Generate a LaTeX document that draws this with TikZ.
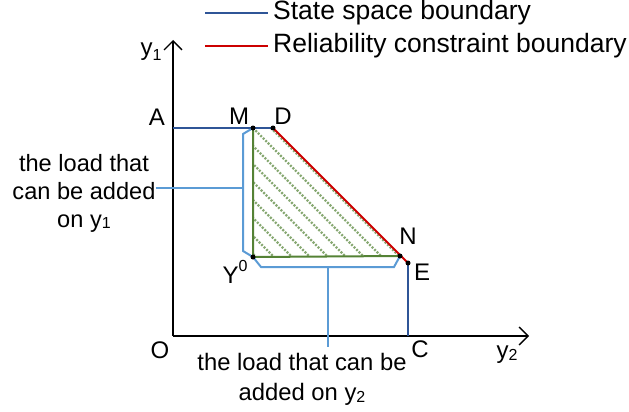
\documentclass[tikz,border=0pt]{standalone}
\usepackage{fontspec}
\setmainfont{Liberation Sans}
\usetikzlibrary{arrows.meta}
\definecolor{dblue}{RGB}{47,85,151}
\definecolor{lblue}{RGB}{91,155,213}
\definecolor{dred}{RGB}{204,0,0}
\definecolor{dgreen}{RGB}{84,130,53}
\tikzset{
  lbl/.style={inner sep=0pt, font=\fontsize{24}{28}\selectfont},
  txt/.style={inner sep=0pt, align=center, font=\fontsize{23.6}{28}\selectfont},
  txtb/.style={inner sep=0pt, align=center, font=\fontsize{23.8}{30}\selectfont},
  legtxt/.style={inner sep=0pt, anchor=west, font=\fontsize{26.5}{30}\selectfont},
  axis/.style={line width=1.6pt, -{Straight Barb[length=9pt,width=18pt,line width=1.4pt]}},
  sbound/.style={dblue, line width=2pt},
  rbound/.style={dred, line width=2pt},
  gline/.style={dgreen, line width=2pt},
  brk/.style={lblue, line width=2pt},
  hatch/.style={dgreen!70, line width=2.4pt, dash pattern=on 2pt off 1.5pt},
  pt/.style={circle, fill=black, inner sep=0pt, minimum size=5pt},
}
\newcommand{\smsub}[1]{\raisebox{-0.15ex}{\fontsize{16}{16}\selectfont #1}}
\begin{document}
\begin{tikzpicture}[x=1pt,y=-1pt]
\useasboundingbox (0,0) rectangle (629,412);
% key points
\coordinate (O) at (173,336);
\coordinate (A) at (173,128);
\coordinate (M) at (253,128);
\coordinate (D) at (273,128);
\coordinate (N) at (400,256);
\coordinate (E) at (408,263);
\coordinate (C) at (408,336);
\coordinate (Y0) at (253,257);
\coordinate (ytop) at (173,40);
\coordinate (xend) at (529,336);
% hatch
\begin{scope}
\clip (M) -- (D) -- (N) -- (Y0) -- cycle;
\foreach \i in {-144,-126,...,160}
  \draw[hatch] (253+\i,128) -- ++(200,200);
\end{scope}
% axes
\draw[axis] (O) -- (ytop);
\draw[axis] (O) -- (xend);
% boundaries
\draw[sbound] (A) -- (D);
\draw[sbound] (E) -- (C);
\draw[rbound] (D) -- (E);
\draw[gline] (M) -- (Y0) -- (N);
% brackets
\coordinate (b1) at (243,134);
\coordinate (b2) at (243,251);
\coordinate (b3) at (243,188);
\draw[brk] (M) -- (b1) -- (b2) -- (Y0);
\coordinate (c1) at (261,267);
\coordinate (c2) at (394,267);
\coordinate (c3) at (328,267);
\coordinate (c4) at (328,347);
\draw[brk] (Y0) -- (c1) -- (c2) -- (N);
\draw[brk] (c3) -- (c4);
% dots
\foreach \p in {M,D,N,E,Y0} \node[pt] at (\p) {};
% labels
\node[lbl] (lA) at (157,117) {A};
\node[lbl] (lM) at (239,116) {M};
\node[lbl] (lD) at (283,116) {D};
\node[lbl] (lN) at (408,236) {N};
\node[lbl] (lE) at (422,272) {E};
\node[lbl] (lY) at (235,272) {Y\raisebox{1.1ex}{\smsub{0}}};
\node[lbl] (lO) at (160,350) {O};
\node[lbl] (lC) at (420,349) {C};
\node[lbl] (ly2) at (507,355) {y\smsub{2}};
\node[lbl] (ly1) at (151,52) {y\raisebox{-0.25ex}{\smsub{1}}};
\node[txt] (t1) at (84,193) {the load that\\can be added\\on y\smsub{1}};
\draw[brk] (t1.east |- b3) -- (b3);
\node[txtb] (t2) at (302,379) {the load that can be\\added on y\smsub{2}};
% legend
\coordinate (l1a) at (205,13);
\coordinate (l1b) at (268,13);
\coordinate (l2a) at (205,46);
\coordinate (l2b) at (268,46);
\draw[sbound] (l1a) -- (l1b);
\draw[rbound] (l2a) -- (l2b);
\node[legtxt] (lg1) at (273,13) {State space boundary};
\node[legtxt] (lg2) at (273,46) {Reliability constraint boundary};
\end{tikzpicture}
\end{document}
